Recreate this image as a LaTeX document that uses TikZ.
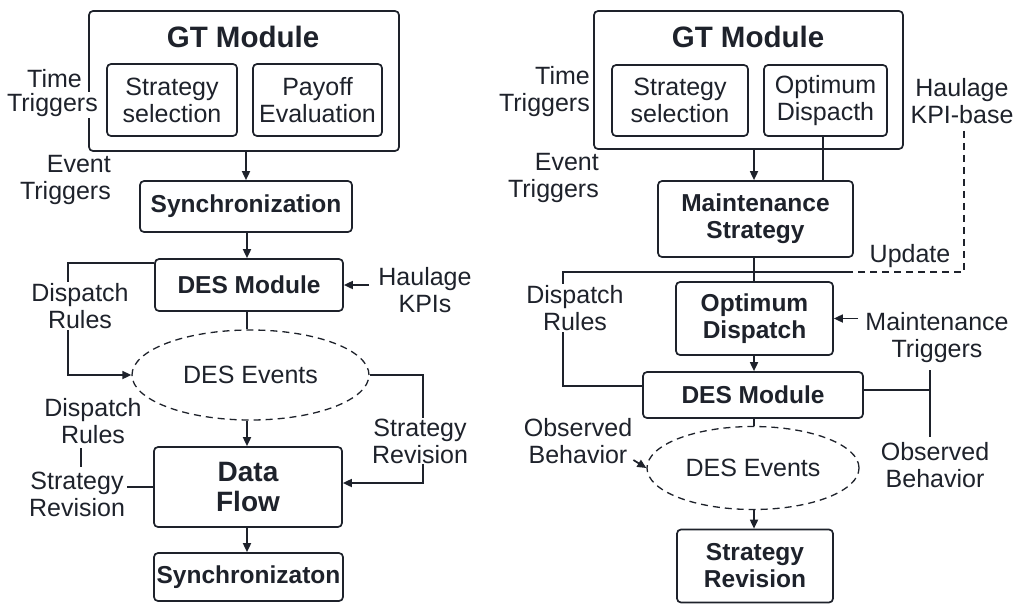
\documentclass[tikz,border=0pt]{standalone}
\usepackage{fontspec}
\setmainfont{Liberation Sans}
\usetikzlibrary{arrows.meta,shapes.geometric,calc}
\definecolor{ink}{HTML}{1E222B}
\begin{document}
\begin{tikzpicture}[x=1pt,y=-1pt,
  every node/.style={text=ink},
  box/.style={draw=ink,line width=1.7pt,rounded corners=4pt,inner sep=0pt,align=center,font=\fontsize{24.5}{27}\selectfont\bfseries},
  sub/.style={draw=ink,line width=1.7pt,rounded corners=4pt,inner sep=0pt,align=center,font=\fontsize{25}{27}\selectfont},
  title/.style={font=\fontsize{29.5}{30}\selectfont\bfseries,inner sep=0pt},
  lab/.style={align=center,font=\fontsize{25}{27}\selectfont,inner sep=1pt},
  labr/.style={align=right,font=\fontsize{25}{27}\selectfont,inner sep=1pt},
  ev/.style={ellipse,draw=ink,line width=1.3pt,dash pattern=on 7pt off 5pt,inner sep=0pt,font=\fontsize{25}{27}\selectfont},
  conn/.style={draw=ink,line width=1.7pt},
  arr/.style={conn,-{Triangle[length=9pt,width=8pt]}},
  dconn/.style={draw=ink,line width=1.4pt,dash pattern=on 7pt off 5pt}
]
\fill[white] (0,0) rectangle (1017,603);
\useasboundingbox (0,0) rectangle (1017,603);

% ---------------- LEFT PANEL ----------------
\node[sub,minimum width=310pt,minimum height=140pt] (gtL) at (244,81) {};
\node[title] (gtLt) at (243,37) {GT Module};
\node[sub,minimum width=130pt,minimum height=72pt] (ssL) at (172,100) {Strategy\\selection};
\node[sub,minimum width=129pt,minimum height=72pt] (peL) at (317.5,100) {Payoff\\Evaluation};
\node[labr,anchor=east] (ttL1) at (83,79) {Time};
\node[labr,anchor=east,fill=white] (ttL2) at (99,105) {Triggers};
\node[labr,anchor=east] (etL) at (112,180) {Event\\Triggers};

\node[box,minimum width=212pt,minimum height=51pt] (syncL) at (246,206.5) {Synchronization};
\node[box,minimum width=188pt,minimum height=52pt] (desL) at (249,285) {DES Module};
\node[ev,minimum width=237pt,minimum height=90pt] (evL) at (250.5,375) {DES Events};
\node[box,minimum width=188pt,minimum height=80pt,font=\fontsize{28}{30}\selectfont\bfseries] (dfL) at (248,487) {Data\\Flow};
\node[box,minimum width=189pt,minimum height=48pt] (sync2L) at (248.5,577) {Synchronizaton};

\node[lab] (hkL) at (425,290) {Haulage\\KPIs};
\node[lab] (srR1) at (420,441) {Strategy\\Revision};
\node[lab] (dr2L) at (93,421) {Dispatch\\Rules};
\node[lab] (sr2L) at (77,494) {Strategy\\Revision};

\draw[arr] (syncL.north |- gtL.south) -- (syncL.north);
\draw[arr] (syncL.south -| 247,0) -- (desL.north -| 247,0);
\draw[conn] (desL.south -| 247,0) -- (evL.north -| 247,0);
\draw[arr] (evL.south -| 247,0) -- (dfL.north -| 247,0);
\draw[arr] (dfL.south -| 247,0) -- (sync2L.north -| 247,0);
\draw[arr] (hkL.west |- desL.east) ++(-8,0) -- (desL.east);
\draw[arr] ([yshift=-5pt]desL.north west) -| (68,330) |- (evL.west);
\node[lab,fill=white] (drL) at (80,306) {Dispatch\\Rules};
\draw[arr] (evL.east) -| (423,483) -- (dfL.east |- 0,483);
\node[lab,fill=white] at (srR1) {Strategy\\Revision};
\coordinate (tickA) at (81,448);
\coordinate (tickB) at (81,467);
\draw[conn,line width=1.3pt] (tickA) -- (tickB);
\draw[conn,line width=1.3pt] (127,487) -- (dfL.west);

% ---------------- RIGHT PANEL ----------------
\node[sub,minimum width=309pt,minimum height=138pt] (gtR) at (748.5,80) {};
\node[title] (gtRt) at (748,37) {GT Module};
\node[sub,minimum width=136pt,minimum height=71pt] (ssR) at (680,100.5) {Strategy\\selection};
\node[sub,minimum width=123pt,minimum height=71pt] (odR) at (825.5,100.5) {Optimum\\Dispacth};
\node[labr,anchor=east] (ttR) at (591,92) {Time\\Triggers};
\node[labr,anchor=east] (etR) at (600,178) {Event\\Triggers};
\node[lab] (hkbR) at (962,101) {Haulage\\KPI-base};

\node[box,minimum width=195pt,minimum height=76pt] (msR) at (755.5,219) {Maintenance\\Strategy};
\node[box,minimum width=157pt,minimum height=73pt] (odpR) at (754.5,318.5) {Optimum\\Dispatch};
\node[box,minimum width=220pt,minimum height=46pt] (desR) at (753,395) {DES Module};
\node[ev,minimum width=212pt,minimum height=83pt] (evR) at (753,468) {DES Events};
\node[box,minimum width=156pt,minimum height=73pt] (srR) at (755,566) {Strategy\\Revision};

\node[lab] (upR) at (910,256) {Update};
\node[lab] (mtR) at (937,338) {Maintenance\\Triggers};
\node[lab] (obR) at (935,465) {Observed\\Behavior};
\node[lab] (obL) at (578,441) {Observed\\Behavior};

\draw[arr] (msR.north -| 754,0) ++(0,-32) -- (msR.north -| 754,0);
\draw[conn] (odR.south -| 823,0) -- (msR.north -| 823,0);
\draw[dconn] ([yshift=-6pt]hkbR.south -| 964,0) -- (964,272) -- (848,272);
\draw[conn] (848,272) -- (563,272) -- (563,386) -- ([yshift=9pt]desR.west);
\node[lab,fill=white] (drR) at (575,308) {Dispatch\\Rules};
\draw[conn] (msR.south -| 754,0) -- (odpR.north -| 754,0);
\draw[arr] (mtR.west |- odpR.east) ++(-6,0) -- (odpR.east);
\draw[arr] (odpR.south -| 754,0) -- (desR.north -| 754,0);
\draw[conn] ([yshift=5pt]desR.east) -- (930,390);
\draw[conn] (930,370) -- (930,437);
\draw[conn] (desR.south -| 754,0) -- (evR.north -| 754,0);
\draw[arr] ([yshift=-19pt]obL.east) -- (evR.west);
\draw[arr] (evR.south -| 754,0) -- (srR.north -| 754,0);
\end{tikzpicture}
\end{document}
